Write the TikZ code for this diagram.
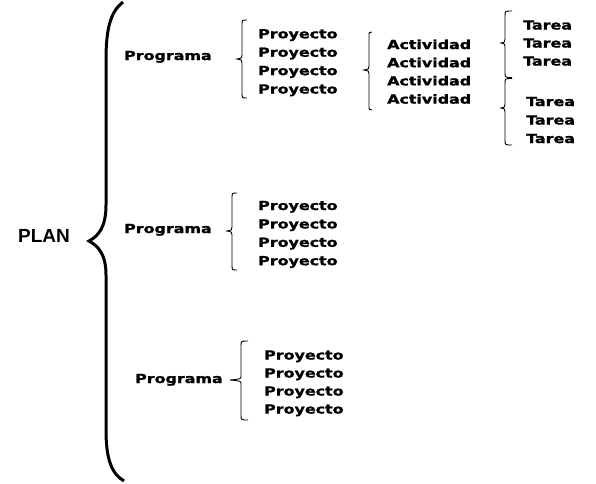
\documentclass[tikz,border=0pt]{standalone}
\usepackage{fontspec}
\newfontfamily\pixfont{DejaVu Sans}[FakeStretch=1.27,FakeBold=1.5]
\newfontfamily\planfont{Liberation Sans}
\newcommand\mybrace[6]{%
  \draw[smallbrace] (#1,#4) .. controls (#2,#4) .. (#2,#4+5) -- (#2,#5-4)
    .. controls (#2,#5-1) .. (#3,#5) .. controls (#2,#5+1) .. (#2,#5+4)
    -- (#2,#6-5) .. controls (#2,#6) .. (#1,#6);}
\begin{document}
\begin{tikzpicture}[x=1pt,y=-1pt,
  lbl/.style={anchor=base west,inner sep=0pt,font=\pixfont\bfseries\fontsize{12.5}{12.5}\selectfont},
  smallbrace/.style={line width=0.9pt,black},
  bigbrace/.style={line width=3pt,black}]
\useasboundingbox[fill=white] (0,0) rectangle (596,483);
% PLAN
\node[anchor=base west,inner sep=0pt,font=\planfont\bfseries\fontsize{19}{19}\selectfont] (plan) at (18,242) {PLAN};
\draw[bigbrace] (123,2) .. controls (110,12) and (106,30) .. (106,60) -- (106,205)
  .. controls (106,228) and (98,236) .. (89,241)
  .. controls (98,246) and (106,254) .. (106,275) -- (106,430)
  .. controls (106,460) and (112,474) .. (124,481);
% Programas
\node[lbl] (prog1) at (124,60) {Programa};
\node[lbl] (prog2) at (124,233) {Programa};
\node[lbl] (prog3) at (135,383) {Programa};
% Proyectos 1
\mybrace{247}{242}{237}{20}{59}{98}
\foreach \i in {0,1,2,3} {\node[lbl] (pa\i) at (258,38.3+18.4*\i) {Proyecto};}
% Proyectos 2
\mybrace{237}{232}{227}{193}{231}{270}
\foreach \i in {0,1,2,3} {\node[lbl] (pb\i) at (258,210+18.4*\i) {Proyecto};}
% Proyectos 3
\mybrace{248}{241}{230}{341}{380}{420}
\foreach \i in {0,1,2,3} {\node[lbl] (pc\i) at (264,359.5+18*\i) {Proyecto};}
% Actividades
\mybrace{372}{369}{364}{32}{70}{110}
\foreach \i in {0,1,2,3} {\node[lbl] (ac\i) at (387,49+18.2*\i) {Actividad};}
% Tareas
\mybrace{512}{505}{501}{11}{43}{77.5}
\mybrace{512}{505}{501}{78.5}{108}{145}
\foreach \i in {0,1,2} {\node[lbl] (ta\i) at (523,29.5+18*\i) {Tarea};}
\foreach \i in {0,1,2} {\node[lbl] (tb\i) at (526,106+18.5*\i) {Tarea};}
\end{tikzpicture}
\end{document}
